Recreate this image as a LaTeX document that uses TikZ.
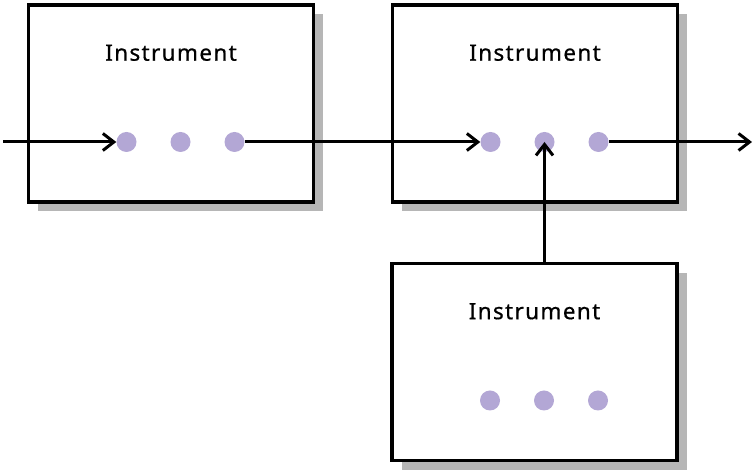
\documentclass[tikz,border=0pt]{standalone}
\usepackage{fontspec}
\setmainfont{Noto Sans}[LetterSpace=6,FakeBold=0.6]
\usetikzlibrary{arrows.meta,shadows}
\definecolor{dotlav}{RGB}{179,167,213}
\definecolor{shadowgrey}{RGB}{182,182,182}
\begin{document}
\begin{tikzpicture}[x=1pt,y=1pt,
  instbox/.style={draw=black, line width=3.6pt, fill=white, inner sep=0pt,
    minimum width=285pt, minimum height=197pt,
    drop shadow={shadow xshift=9.5pt, shadow yshift=-9.5pt, fill=shadowgrey, opacity=1}},
  title/.style={anchor=base, inner sep=0pt, font=\fontsize{22.5}{26}\selectfont},
  port/.style={circle, fill=dotlav, minimum size=20pt, inner sep=0pt},
  flow/.style={line width=3pt, -{Straight Barb[length=11pt, width=17pt, line width=3pt]}}]
\useasboundingbox (0,0) rectangle (755,470);

% the three instrument boxes
\node[instbox] (b1) at (171,366.5) {};
\node[instbox] (b2) at (535,366.5) {};
\node[instbox] (b3) at (534.5,108) {};

% titles
\foreach \b in {b1,b2,b3} {
  \node[title] (\b t) at ([yshift=-57.5pt]\b.north) {Instrument};
}

% ports: three dots per box
\foreach \b in {b1,b2,b3} {
  \node[port] (\b p1) at ([shift={(-44.5pt,-38.5pt)}]\b.center) {};
  \node[port] (\b p2) at ([shift={(9.5pt,-38.5pt)}]\b.center) {};
  \node[port] (\b p3) at ([shift={(63.5pt,-38.5pt)}]\b.center) {};
}

% connectors
\coordinate (src) at (3,328);
\coordinate (sink) at (752,328);
\draw[flow] (src) -- (b1p1.west);
\draw[flow] (b1p3.east) -- (b2p1.west);
\draw[flow] (b2p3.east) -- (sink);
\draw[flow] (b2p2 |- b3.north) -- (b2p2.center);
\end{tikzpicture}
\end{document}
